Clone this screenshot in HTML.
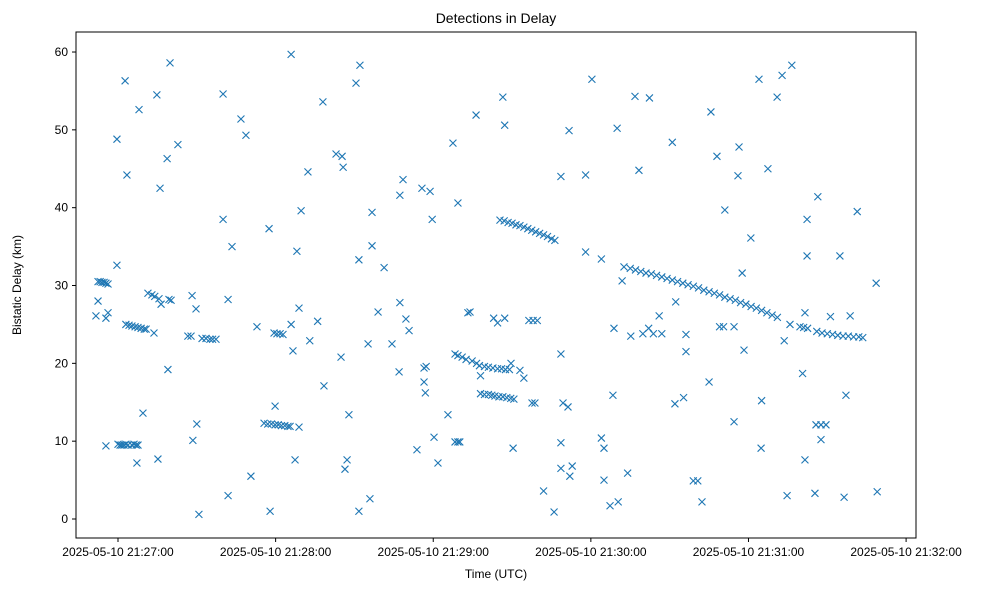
<!DOCTYPE html>
<html><head><meta charset="utf-8"><style>
html,body{margin:0;padding:0;background:#fff;}
svg text{font-family:"Liberation Sans","DejaVu Sans",sans-serif;fill:#000;}
</style></head><body>
<svg id="chart" width="988" height="590" viewBox="0 0 988 590" xmlns="http://www.w3.org/2000/svg">
<rect width="988" height="590" fill="#fff"/>
<text x="496" y="23" font-size="14" text-anchor="middle">Detections in Delay</text>
<g id="marks"></g>
<rect x="76" y="32" width="840" height="506" fill="none" stroke="#000" stroke-width="1"/>
<g id="xaxis"></g>
<g id="yaxis"></g>
<text x="496" y="578" font-size="12" text-anchor="middle">Time (UTC)</text>
<text x="21" y="285" font-size="12" text-anchor="middle" transform="rotate(-90 21 285)">Bistatic Delay (km)</text>
</svg>
<script>
// time in seconds after 2025-05-10 21:27:00 UTC, delay in km
const scatterTimes = [-8.4,-7.6,-4.6,-3.8,-4.6,-0.4,-0.4,2.7,3.4,7.2,8,9.5,13.7,14.8,15.2,16,18.7,19,19.4,20.2,19.8,22.8,28.2,28.5,29.7,30,30.8,40,40,41.9,41.9,43.4,46.8,48.7,50.6,52.9,57.5,57.9,59.8,65.9,65.9,66.6,67.4,68.1,68.9,68.9,69.7,72.3,73,76,78,78.4,83,84.9,85.3,85.7,86.4,87.2,87.9,90.6,92.1,91.7,91.7,95.2,95.9,96.7,96.7,99,101.3,104.3,107,107.3,107.3,108.5,109.6,110.8,113.8,115.7,116.5,116.5,117,117.3,118.8,119.6,120.3,121.8,125.6,127.5,128.3,129.4,130.1,129.4,133.2,134,136.3,138,143,144.5,147.2,146.5,147.2,149.6,150.4,153,154.5,156.4,158,159.6,157.6,158.7,162,166,168.6,168.6,168.6,168.6,169.4,171.3,171.7,172,172.9,178,178,180.4,184,184,185,185,187.3,188.4,188.8,190,190.4,191.9,194,195.2,196.8,198.3,199.8,202,202.3,203.8,206,207,211,212,212.3,215.3,216.2,216.2,219,220.7,222.3,225,225.7,228,231,234.5,236,237.6,236.4,238.3,240.9,244,245,244.8,247.4,250.9,252.8,253.6,254.7,256.5,255.8,260.6,261.5,261.5,262.3,262.3,265.3,266.4,267.6,271.2,274.8,276.4,277.1,278.7,281.4,288.6,289];
const scatterDelays = [26.1,28.0,25.8,26.5,9.4,32.6,48.8,56.3,44.2,7.2,52.6,13.6,23.9,54.5,7.7,42.5,46.3,19.2,28.2,28.1,58.6,48.1,28.7,10.1,27.0,12.2,0.6,54.6,38.5,3.0,28.2,35.0,51.4,49.3,5.5,24.7,37.3,1.0,14.5,59.7,25.0,21.6,7.6,34.4,11.8,27.1,39.6,44.6,22.9,25.4,53.6,17.1,46.9,20.8,46.6,45.2,6.4,7.6,13.4,56,58.3,33.3,1.0,22.5,2.6,39.4,35.1,26.6,32.3,22.5,18.9,41.6,27.8,43.6,25.7,24.2,8.9,42.5,19.4,17.6,16.2,19.6,42.1,38.5,10.5,7.2,13.4,48.3,9.9,9.9,9.9,40.6,26.5,26.6,51.9,18.4,25.8,25.2,25.8,54.2,50.6,20.0,9.1,19.1,18.1,25.5,25.5,25.5,14.9,14.9,3.6,0.9,44,21.2,9.8,6.5,14.9,14.4,49.9,5.5,6.8,44.2,34.3,56.5,33.4,10.4,9.1,5.0,1.7,15.9,24.5,50.2,2.2,30.6,5.9,23.5,54.3,44.8,23.8,24.5,54.1,23.8,26.1,23.8,48.4,14.8,27.9,15.6,21.5,23.7,4.9,4.9,2.2,17.6,52.3,46.6,39.7,12.5,44.1,31.6,47.8,21.7,36.1,56.5,15.2,9.1,45,54.2,57,22.9,3.0,58.3,25.0,18.7,26.5,7.6,33.8,38.5,3.3,41.4,10.2,26.0,33.8,2.8,15.9,26.1,39.5,30.3,3.5];
const trackTimes = [-7.6,-6.8,-6.1,-5.3,-4.6,-3.8,
 0,0.8,1.5,2.3,3,3.8,5.3,6.1,6.9,7.6,
 3,4.2,5.3,6.5,7.6,8.8,10,10.7,
 11.4,12.9,14,15.6,16.4,
 26.6,27.8,32,33.5,35,36,37.3,
 55.6,57,58.4,59.8,61,62.2,63.5,64.7,65.5,
 59.4,60.5,61.7,62.8,
 128.3,129.4,131,132.5,134.8,136.5,
 137.6,139.5,141,142.7,144.5,146,147.5,149,
 138,139.5,141,142.3,143.5,145,146.5,148,149.5,150.7,
 145.4,147,148.5,150,151.5,153,154.5,156,157.5,159,160.5,162,163.5,165,166.3,
 192.6,195,197,199,201,203,205,207,209,211,213,215,217,219,221,223,225,227,229,231,233,235,237,239,241,243,245,247,249,251,
 229,230.5,234.5,
 259.6,261,262.5,266,268,270,272,274,276,278,280,282,283.5,
 265.7,267.6,269.5];
const trackDelays = [30.5,30.5,30.4,30.4,30.3,30.2,
 9.6,9.5,9.5,9.5,9.6,9.5,9.5,9.6,9.5,9.5,
 25,24.9,24.8,24.7,24.6,24.5,24.4,24.4,
 29,28.8,28.6,28.3,27.6,
 23.5,23.5,23.2,23.2,23.1,23.1,23.1,
 12.3,12.2,12.2,12.1,12.1,12,12,11.9,11.9,
 23.9,23.8,23.8,23.7,
 21.2,21,20.8,20.5,20.3,20.0,
 19.7,19.6,19.5,19.4,19.3,19.3,19.2,19.2,
 16.1,16,16,15.9,15.8,15.7,15.7,15.6,15.5,15.4,
 38.4,38.3,38.1,38,37.8,37.7,37.5,37.3,37.1,36.9,36.7,36.5,36.3,36.0,35.8,
 32.4,32.2,32,31.8,31.6,31.5,31.3,31.1,30.9,30.7,30.5,30.3,30.1,29.9,29.7,29.4,29.2,29.0,28.8,28.5,28.3,28.1,27.8,27.6,27.3,27.1,26.8,26.5,26.2,25.9,
 24.7,24.7,24.7,
 24.7,24.6,24.5,24.1,23.9,23.8,23.7,23.6,23.5,23.5,23.4,23.4,23.3,
 12.1,12.1,12.1];
const xTickSeconds = [0,60,120,180,240,300];
const xTickLabels = ["2025-05-10 21:27:00","2025-05-10 21:28:00","2025-05-10 21:29:00","2025-05-10 21:30:00","2025-05-10 21:31:00","2025-05-10 21:32:00"];
const yTicks = [0,10,20,30,40,50,60];

const xScale = t => 118 + t * 2.627;
const yScale = v => 519 - v * 7.783;
const NS = "http://www.w3.org/2000/svg";
const marks = document.getElementById('marks');
const allT = scatterTimes.concat(trackTimes);
const allV = scatterDelays.concat(trackDelays);
for (let i = 0; i < allT.length; i++) {
  const cx = xScale(allT[i]), cy = yScale(allV[i]), r = 3.5;
  const p = document.createElementNS(NS, 'path');
  p.setAttribute('d', `M${cx-r},${cy-r}L${cx+r},${cy+r}M${cx-r},${cy+r}L${cx+r},${cy-r}`);
  p.setAttribute('stroke', '#1f77b4');
  p.setAttribute('stroke-width', '1.1');
  p.setAttribute('fill', 'none');
  
  
  marks.appendChild(p);
}
const xa = document.getElementById('xaxis');
xTickSeconds.forEach((s, i) => {
  const x = xScale(s);
  const l = document.createElementNS(NS, 'line');
  l.setAttribute('x1', x); l.setAttribute('x2', x); l.setAttribute('y1', 538); l.setAttribute('y2', 542);
  l.setAttribute('stroke', '#000');
  
  
  xa.appendChild(l);
  const t = document.createElementNS(NS, 'text');
  t.setAttribute('x', x); t.setAttribute('y', 556); t.setAttribute('font-size', '12'); t.setAttribute('text-anchor', 'middle');
  t.textContent = xTickLabels[i];
  
  
  xa.appendChild(t);
});
const ya = document.getElementById('yaxis');
yTicks.forEach(v => {
  const y = yScale(v);
  const l = document.createElementNS(NS, 'line');
  l.setAttribute('x1', 72); l.setAttribute('x2', 76); l.setAttribute('y1', y); l.setAttribute('y2', y);
  l.setAttribute('stroke', '#000');
  
  
  ya.appendChild(l);
  const t = document.createElementNS(NS, 'text');
  t.setAttribute('x', 68); t.setAttribute('y', y + 4); t.setAttribute('font-size', '12'); t.setAttribute('text-anchor', 'end');
  t.textContent = v;
  
  
  ya.appendChild(t);
});
</script>
</body></html>
